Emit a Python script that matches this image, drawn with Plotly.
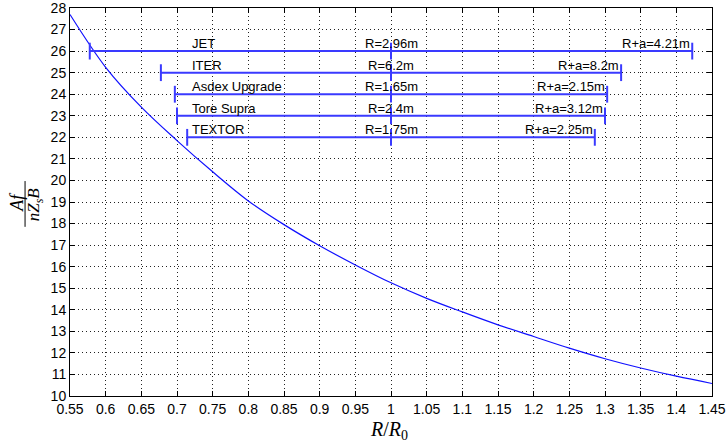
import plotly.graph_objects as go

# Curve
ratio = [0.55, 0.60, 0.65, 0.70, 0.75, 0.80, 0.85, 0.90, 0.95, 1.00,
         1.05, 1.10, 1.15, 1.20, 1.25, 1.30, 1.35, 1.40, 1.45]
value = [27.7, 25.25, 23.4, 21.85, 20.4, 19.05, 17.95, 16.97, 16.08, 15.25,
         14.53, 13.9, 13.3, 12.76, 12.22, 11.73, 11.3, 10.92, 10.58]

# Machines
machines = ["JET", "ITER", "Asdex Upgrade", "Tore Supra", "TEXTOR"]
major_r = [2.96, 6.2, 1.65, 2.4, 1.75]
r_plus_a = [4.21, 8.2, 2.15, 3.12, 2.25]
r_labels = ["R=2.96m", "R=6.2m", "R=1.65m", "R=2.4m", "R=1.75m"]
rpa_labels = ["R+a=4.21m", "R+a=8.2m", "R+a=2.15m", "R+a=3.12m", "R+a=2.25m"]
row_level = [26, 25, 24, 23, 22]

x_ticks = [0.55, 0.6, 0.65, 0.7, 0.75, 0.8, 0.85, 0.9, 0.95, 1.0,
           1.05, 1.1, 1.15, 1.2, 1.25, 1.3, 1.35, 1.4, 1.45]
x_tick_text = ["0.55", "0.6", "0.65", "0.7", "0.75", "0.8", "0.85", "0.9", "0.95", "1",
               "1.05", "1.1", "1.15", "1.2", "1.25", "1.3", "1.35", "1.4", "1.45"]
y_ticks = list(range(10, 29))

BAR = "#3a3aff"
fig = go.Figure()
fig.add_trace(go.Scatter(x=ratio, y=value, mode="lines", line=dict(color="#1010ff", width=1.2, shape="spline"),
                         showlegend=False, hoverinfo="skip"))

annotations = []
for name, r, rpa, lv, rl, rpl in zip(machines, major_r, r_plus_a, row_level, r_labels, rpa_labels):
    a = rpa - r
    xs = [(r - a) / r, 1.0, rpa / r]
    ys = [lv] * 3
    fig.add_trace(go.Scatter(x=[xs[0], xs[2]], y=[lv, lv], mode="lines",
                             line=dict(color=BAR, width=2), showlegend=False, hoverinfo="skip"))
    fig.add_trace(go.Scatter(x=xs, y=ys, mode="markers",
                             marker=dict(symbol="line-ns", size=12, line=dict(color=BAR, width=2)),
                             showlegend=False, hoverinfo="skip"))
    annotations.append(dict(x=0.718, y=lv, xref="x", yref="y", text=name, showarrow=False,
                            xanchor="left", yanchor="bottom", yshift=-2))
    annotations.append(dict(x=1.0, y=lv, xref="x", yref="y", text=rl, showarrow=False,
                            xanchor="center", yanchor="bottom", yshift=-2))
    annotations.append(dict(x=xs[2], y=lv, xref="x", yref="y", text=rpl, showarrow=False,
                            xanchor="right", yanchor="bottom", yshift=-2))

serif = "Liberation Serif, DejaVu Serif, serif"
annotations.append(dict(x=-0.083, y=0.50, xref="paper", yref="paper", text="<i>Af</i>",
                        textangle=-90, showarrow=False, xanchor="center", yanchor="middle",
                        font=dict(family=serif, size=18, color="black")))
annotations.append(dict(x=-0.054, y=0.495, xref="paper", yref="paper",
                        text="<i>nZ<sub>s</sub>B</i>",
                        textangle=-90, showarrow=False, xanchor="center", yanchor="middle",
                        font=dict(family=serif, size=17, color="black")))
annotations.append(dict(x=0.497, y=-0.09, xref="paper", yref="paper",
                        text="<i>R</i>/<i>R</i><sub>0</sub>", showarrow=False,
                        xanchor="center", yanchor="middle",
                        font=dict(family=serif, size=20, color="black")))

shapes = [dict(type="line", xref="paper", yref="paper", x0=-0.07, x1=-0.07, y0=0.436, y1=0.554,
               line=dict(color="black", width=1))]

axis_common = dict(showline=True, linecolor="black", linewidth=1, mirror="ticks",
                   ticks="inside", ticklen=5, tickcolor="black", automargin=False,
                   ticklabeloverflow="allow",
                   showgrid=True, gridcolor="#222", griddash="1px,3px", gridwidth=1,
                   zeroline=False, tickfont=dict(family="Liberation Sans, Arial", size=14, color="black"))

fig.update_layout(
    width=726, height=448,
    margin=dict(l=70, r=14, t=8, b=52),
    paper_bgcolor="white", plot_bgcolor="white",
    font=dict(family="Liberation Sans, Arial", size=13, color="black"),
    xaxis=dict(range=[0.55, 1.45], tickvals=x_ticks, ticktext=x_tick_text, **axis_common),
    yaxis=dict(range=[10, 28], tickvals=y_ticks, **axis_common),
    annotations=annotations, shapes=shapes, showlegend=False,
)

fig.write_html("out.html", config={"displayModeBar": False},
               post_script="document.body.style.margin='0';document.body.style.overflow='hidden';")
